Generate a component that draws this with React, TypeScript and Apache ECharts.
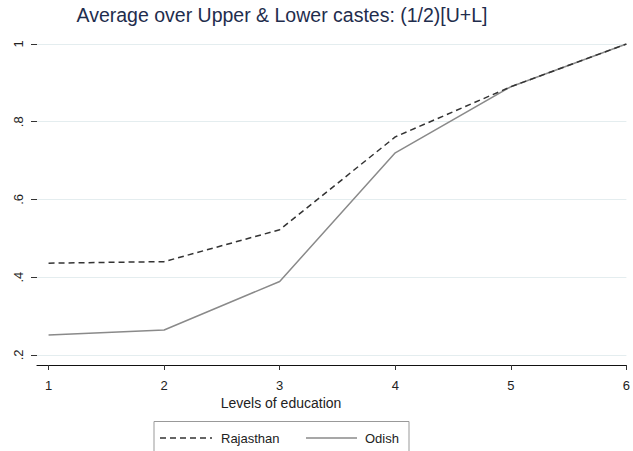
import React, { useEffect, useRef } from "react";
import * as echarts from "echarts";

const educationLevels = [1, 2, 3, 4, 5, 6];
const rajasthan = [0.436, 0.44, 0.522, 0.761, 0.89, 1.0];
const odish = [0.251, 0.264, 0.389, 0.72, 0.89, 1.0];
const yTicks = [0.2, 0.4, 0.6, 0.8, 1.0];
const yTickLabels: Record<string, string> = { "0.2": ".2", "0.4": ".4", "0.6": ".6", "0.8": ".8", "1": "1" };
const seriesNames = ["Rajasthan", "Odish"];
const titleText = "Average over Upper & Lower castes: (1/2)[U+L]";
const xName = "Levels of education";

export default function App() {
  const ref = useRef<HTMLDivElement>(null);
  useEffect(() => {
    if (!ref.current) return;
    const chart = echarts.init(ref.current, undefined, { renderer: "svg" });
    const font = "'Liberation Sans', Arial, sans-serif";
    const rajColor = "#333";
    const odiColor = "#8a8a8a";
    const ly = 438;
    chart.setOption({
      animation: false,
      textStyle: { fontFamily: font },
      grid: { left: 37, right: 0, top: 44, bottom: 86, containLabel: false },
      graphic: [
        {
          type: "text",
          x: 282,
          y: 5,
          style: { text: titleText, fontSize: 19.5, fill: "#1f2d4d", fontFamily: font, textAlign: "center" },
        },
        {
          type: "text",
          x: 281,
          y: 396,
          style: { text: xName, fontSize: 14, fill: "#222", fontFamily: font, textAlign: "center" },
        },
        // legend box (bottom edge falls outside the picture)
        { type: "polyline", shape: { points: [[154, 460], [154, 421.5], [409, 421.5], [409, 460]] }, style: { stroke: "#999", lineWidth: 1, fill: "none" } },
        { type: "line", shape: { x1: 160, y1: ly, x2: 212, y2: ly }, style: { stroke: rajColor, lineWidth: 1.5, lineDash: [6, 4] } },
        { type: "text", x: 221, y: ly, style: { text: seriesNames[0], fontSize: 13, fill: "#222", fontFamily: font, textVerticalAlign: "middle" } },
        { type: "line", shape: { x1: 306, y1: ly, x2: 357, y2: ly }, style: { stroke: odiColor, lineWidth: 1.5 } },
        { type: "text", x: 365, y: ly, style: { text: seriesNames[1], fontSize: 13, fill: "#222", fontFamily: font, textVerticalAlign: "middle" } },
      ],
      xAxis: {
        type: "value",
        min: 0.9,
        max: 6,
        interval: 1,
        axisLine: { show: true, lineStyle: { color: "#111", width: 1.2 } },
        axisTick: { show: true, length: 5, lineStyle: { color: "#333" }, customValues: educationLevels },
        axisLabel: {
          fontSize: 13,
          color: "#222",
          margin: 14,
          customValues: educationLevels,
          formatter: (v: number) => String(v),
        },
        splitLine: { show: false },
      },
      yAxis: {
        type: "value",
        min: 0.174,
        max: 1.0,
        axisLine: { show: false },
        axisTick: { show: true, length: 6, lineStyle: { color: "#333" }, customValues: yTicks },
        axisLabel: {
          fontSize: 13,
          color: "#222",
          rotate: 90,
          margin: 12,
          customValues: yTicks,
          formatter: (v: number) => yTickLabels[String(Math.round(v * 10) / 10)] ?? String(v),
        },
        splitLine: { show: false },
      },
      series: [
        {
          name: seriesNames[0],
          type: "line",
          data: educationLevels.map((x, i) => [x, rajasthan[i]]),
          symbol: "none",
          lineStyle: { color: rajColor, width: 1.5, type: [6, 4] },
          itemStyle: { color: rajColor },
          z: 3,
          markLine: {
            silent: true,
            symbol: "none",
            label: { show: false },
            lineStyle: { color: "#e4edef", width: 1, type: "solid" },
            data: yTicks.map((v) => ({ yAxis: v })),
            z: 1,
          },
        },
        {
          name: seriesNames[1],
          type: "line",
          data: educationLevels.map((x, i) => [x, odish[i]]),
          symbol: "none",
          lineStyle: { color: odiColor, width: 1.5, type: "solid" },
          itemStyle: { color: odiColor },
          z: 2,
        },
      ],
    });
    return () => chart.dispose();
  }, []);
  return <div ref={ref} style={{ width: 633, height: 451, position: "absolute", left: 0, top: 0, background: "#fff" }} />;
}
